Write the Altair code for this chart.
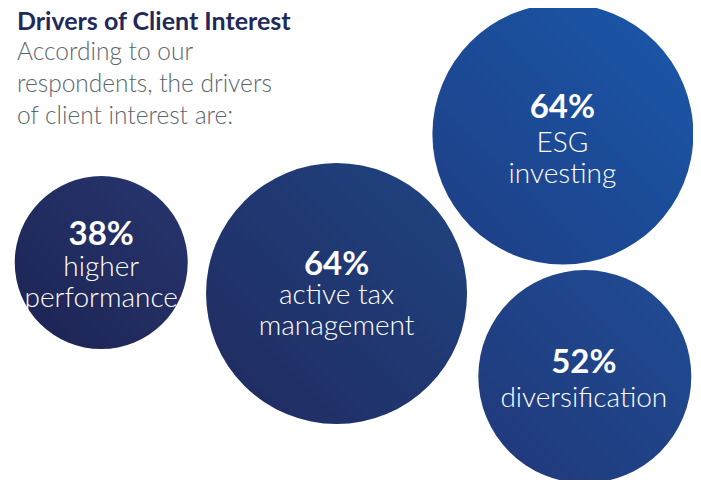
import altair as alt
import pandas as pd

# ---- data ----
labels = ["higher\nperformance", "active tax\nmanagement", "ESG\ninvesting", "diversification"]
pcts = [38, 64, 64, 52]
title_text = "Drivers of Client Interest"
subtitle_text = "According to our\nrespondents, the drivers\nof client interest are:"

# ---- layout (reference pixel positions) ----
cx = [101.5, 337.5, 564.5, 586.5]
cy = [270.5, 302.5, 137.5, 388.5]
tx = [101.5, 337.5, 564, 585.5]
pct_y = [252, 283, 121, 385]
lab_y = [284, 313, 156, 420]
grad = [("#1c2352", "#27366f"),
        ("#212a5f", "#1f4482"),
        ("#1e3e84", "#1a58aa"),
        ("#213879", "#1f4c95")]

W, H = 685, 472
FONT = "Lato"

df = pd.DataFrame({
    "idx": list(range(len(pcts))),
    "pct": pcts,
    "pct_label": [f"{p}%" for p in pcts],
    "label": labels,
    "cx": cx, "cy": cy, "tx": tx, "pct_y": pct_y, "lab_y": lab_y,
})
head = pd.DataFrame({"t": [title_text], "s": [subtitle_text], "x": [17], "ty": [30], "sy": [61]})

xs = alt.Scale(domain=[8, 8 + W], nice=False, zero=False)
ys = alt.Scale(domain=[8, 8 + H], nice=False, zero=False, reverse=True)
size_scale = alt.Scale(type="linear", domain=[38, 52, 64], range=[173 ** 2, 213 ** 2, 261 ** 2])

layers = []
for i, (c0, c1) in enumerate(grad):
    g = alt.LinearGradient(
        gradient="linear",
        stops=[alt.GradientStop(color=c0, offset=0), alt.GradientStop(color=c1, offset=1)],
        x1=0, y1=1, x2=1, y2=0,
    )
    layers.append(
        alt.Chart(df).transform_filter(alt.datum.idx == i)
        .mark_circle(fill=g, opacity=1, strokeWidth=0)
        .encode(
            x=alt.X("cx:Q", scale=xs, axis=None),
            y=alt.Y("cy:Q", scale=ys, axis=None),
            size=alt.Size("pct:Q", scale=size_scale, legend=None),
        )
    )

pct_text = alt.Chart(df).mark_text(
    font=FONT, fontSize=33, fontWeight="bold", color="white", align="center", baseline="alphabetic"
).encode(x=alt.X("tx:Q", scale=xs, axis=None), y=alt.Y("pct_y:Q", scale=ys, axis=None), text="pct_label:N")

lab_text = alt.Chart(df).mark_text(
    font=FONT, fontSize=28, fontWeight=300, color="white", align="center", baseline="alphabetic",
    lineBreak="\n", lineHeight=31
).encode(x=alt.X("tx:Q", scale=xs, axis=None), y=alt.Y("lab_y:Q", scale=ys, axis=None), text="label:N")

title = alt.Chart(head).mark_text(
    font=FONT, fontSize=25, fontWeight="bold", color="#1f2a5c", align="left", baseline="alphabetic"
).encode(x=alt.X("x:Q", scale=xs, axis=None), y=alt.Y("ty:Q", scale=ys, axis=None), text="t:N")

subtitle = alt.Chart(head).mark_text(
    font=FONT, fontSize=24.5, fontWeight=300, color="#5d6570", align="left", baseline="alphabetic",
    lineBreak="\n", lineHeight=32
).encode(x=alt.X("x:Q", scale=xs, axis=None), y=alt.Y("sy:Q", scale=ys, axis=None), text="s:N")

chart = alt.layer(*layers, pct_text, lab_text, title, subtitle).properties(
    width=W, height=H, padding=0,
    autosize=alt.AutoSizeParams(type="fit", contains="padding"),
).configure_view(stroke=None)

chart.save("out.html", embed_options={"renderer": "svg", "actions": False})
